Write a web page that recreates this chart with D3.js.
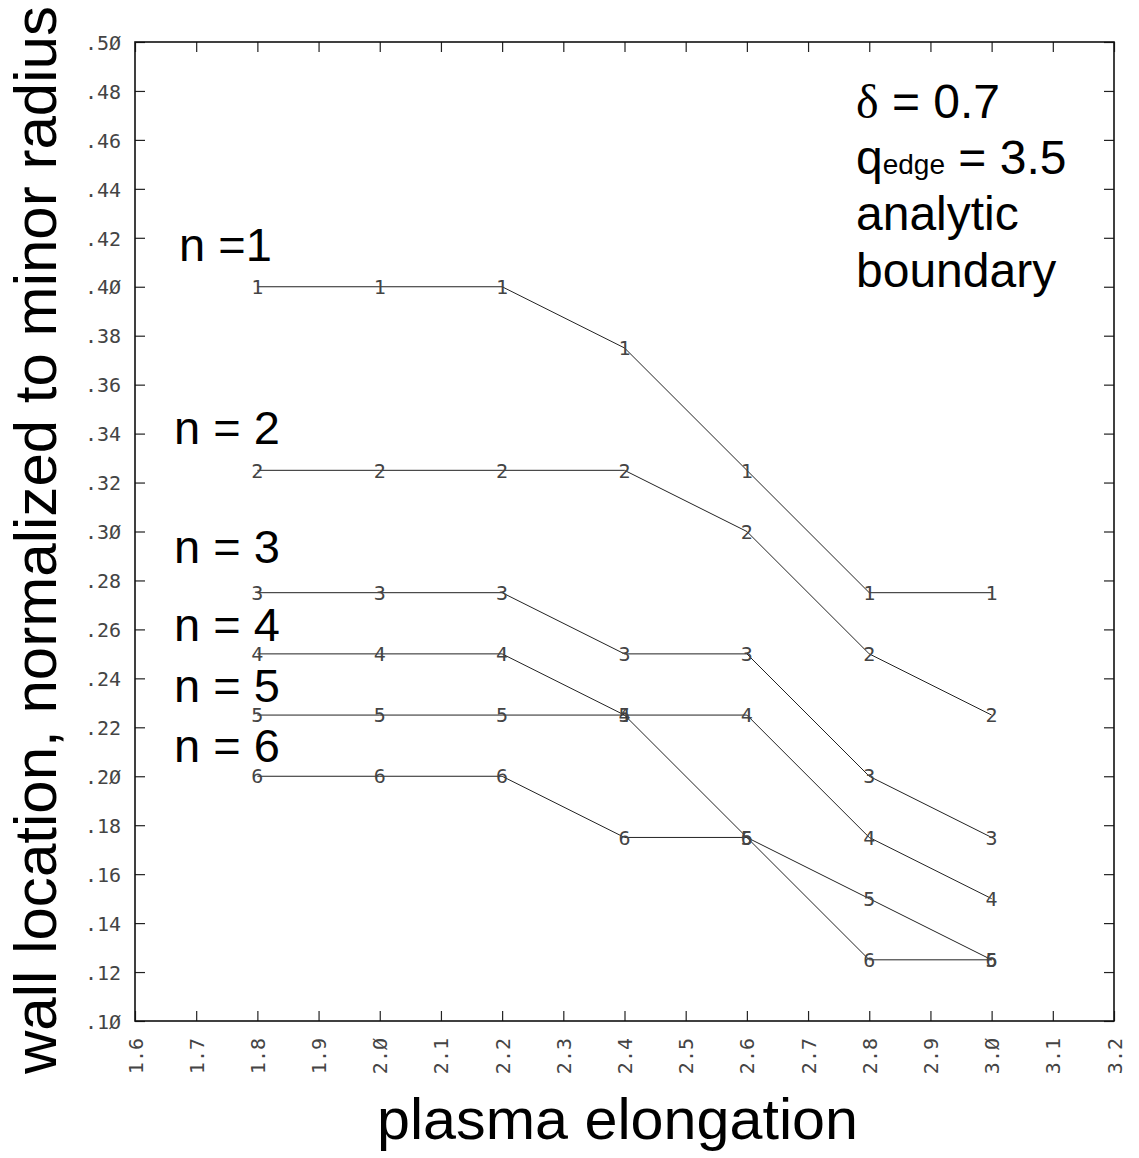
<!DOCTYPE html>
<html>
<head>
<meta charset="utf-8">
<script src="https://cdn.jsdelivr.net/npm/d3@7"></script>
<style>
  body { margin: 0; background: #fff; }
  svg { display: block; }
</style>
</head>
<body>
<div id="chart"></div>
<script>
// elongation values where the wall location was computed
const elongation = [1.8, 2.0, 2.2, 2.4, 2.6, 2.8, 3.0];
const modeNumbers = [1, 2, 3, 4, 5, 6];
const wallN1 = [0.40, 0.40, 0.40, 0.375, 0.325, 0.275, 0.275];
const wallN2 = [0.325, 0.325, 0.325, 0.325, 0.30, 0.25, 0.225];
const wallN3 = [0.275, 0.275, 0.275, 0.25, 0.25, 0.20, 0.175];
const wallN4 = [0.25, 0.25, 0.25, 0.225, 0.225, 0.175, 0.15];
const wallN5 = [0.225, 0.225, 0.225, 0.225, 0.175, 0.15, 0.125];
const wallN6 = [0.20, 0.20, 0.20, 0.175, 0.175, 0.125, 0.125];
const xTicks = [1.6, 1.7, 1.8, 1.9, 2.0, 2.1, 2.2, 2.3, 2.4, 2.5, 2.6, 2.7, 2.8, 2.9, 3.0, 3.1, 3.2];
const yTicks = [0.10, 0.12, 0.14, 0.16, 0.18, 0.20, 0.22, 0.24, 0.26, 0.28, 0.30, 0.32, 0.34, 0.36, 0.38, 0.40, 0.42, 0.44, 0.46, 0.48, 0.50];
const seriesLabels = ["n =1", "n = 2", "n = 3", "n = 4", "n = 5", "n = 6"];
const infoLines = ["δ = 0.7", "qedge = 3.5", "analytic", "boundary"];

const size = {
  width: 1139,
  height: 1158,
  left: 135,
  right: 1114,
  top: 42,
  bottom: 1021
};

const series = [wallN1, wallN2, wallN3, wallN4, wallN5, wallN6];

// plotter style labels: no leading zero, slashed zeros
const fmtY = d => d3.format(".2f")(d).replace(/^0/, "").replace(/0/g, "Ø");
const fmtX = d => d3.format(".1f")(d).replace(/0/g, "Ø");

const x = d3.scaleLinear().domain([1.6, 3.2]).range([size.left, size.right]);
const y = d3.scaleLinear().domain([0.10, 0.50]).range([size.bottom, size.top]);

const svg = d3.select("#chart").append("svg")
  .attr("width", size.width)
  .attr("height", size.height);

const thinFont = "'DejaVu Sans Mono', monospace";
const sans = "'Liberation Sans', Arial, sans-serif";

function plotterText(selection, px) {
  selection
    .style("font-family", thinFont)
    .style("font-size", px + "px")
    .style("fill", "#444");
}

// ticks on all four sides, pointing inward
const bottomAxis = svg.append("g")
  .attr("transform", `translate(0, ${size.bottom})`)
  .call(d3.axisBottom(x).tickValues(xTicks).tickSize(-10).tickSizeOuter(0).tickFormat(fmtX));
bottomAxis.selectAll("text")
  .attr("transform", "rotate(-90)")
  .attr("x", -17)
  .attr("y", 0)
  .attr("dy", "0.35em")
  .attr("text-anchor", "end")
  .call(plotterText, 20);

const leftAxis = svg.append("g")
  .attr("transform", `translate(${size.left}, 0)`)
  .call(d3.axisLeft(y).tickValues(yTicks).tickSize(-10).tickSizeOuter(0).tickPadding(14).tickFormat(fmtY));
leftAxis.selectAll("text")
  .attr("dy", "0.36em")
  .call(plotterText, 20);

svg.append("g")
  .attr("transform", `translate(0, ${size.top})`)
  .call(d3.axisTop(x).tickValues(xTicks).tickSize(-10).tickSizeOuter(0).tickFormat(""));

svg.append("g")
  .attr("transform", `translate(${size.right}, 0)`)
  .call(d3.axisRight(y).tickValues(yTicks).tickSize(-10).tickSizeOuter(0).tickFormat(""));

svg.selectAll(".domain").remove();
svg.selectAll(".tick line").attr("stroke", "#222").attr("stroke-width", 1.2);

// frame
svg.append("rect")
  .attr("x", size.left)
  .attr("y", size.top)
  .attr("width", size.right - size.left)
  .attr("height", size.bottom - size.top)
  .attr("fill", "none")
  .attr("stroke", "#111")
  .attr("stroke-width", 1.6);

// curves with mode number as the point symbol
const line = d3.line()
  .x((d, i) => x(elongation[i]))
  .y(d => y(d));

series.forEach((vals, k) => {
  svg.append("path")
    .datum(vals)
    .attr("d", line)
    .attr("fill", "none")
    .attr("stroke", "#222")
    .attr("stroke-width", 1);

  svg.append("g")
    .selectAll("text")
    .data(vals)
    .join("text")
    .attr("x", (d, i) => x(elongation[i]))
    .attr("y", d => y(d))
    .attr("dy", "0.36em")
    .attr("text-anchor", "middle")
    .call(plotterText, 20)
    .text(modeNumbers[k]);
});

// series labels on the left
const labelY = [261, 444, 563, 641, 702, 762];
const labelX = [179, 174, 174, 174, 174, 174];
svg.append("g")
  .selectAll("text")
  .data(seriesLabels)
  .join("text")
  .attr("x", (d, i) => labelX[i])
  .attr("y", (d, i) => labelY[i])
  .style("font-family", sans)
  .style("font-size", "47px")
  .text(d => d);

// parameter block, top right
const infoY = [118, 174, 230, 287];
const info = svg.append("g")
  .style("font-family", sans)
  .style("font-size", "48px");
info.append("text").attr("x", 856).attr("y", infoY[0])
  .call(t => {
    t.append("tspan").style("font-family", "'Liberation Serif', serif").text(infoLines[0].slice(0, 1));
    t.append("tspan").text(infoLines[0].slice(1));
  });
const q = info.append("text").attr("x", 856).attr("y", infoY[1]);
q.append("tspan").text("q");
q.append("tspan").style("font-size", "28px").text("edge");
q.append("tspan").text(" = 3.5");
info.append("text").attr("x", 856).attr("y", infoY[2]).text(infoLines[2]);
info.append("text").attr("x", 856).attr("y", infoY[3]).text(infoLines[3]);

// axis titles
svg.append("text")
  .attr("x", 377)
  .attr("y", 1139)
  .attr("textLength", 481)
  .attr("lengthAdjust", "spacingAndGlyphs")
  .style("font-family", sans)
  .style("font-size", "58px")
  .text("plasma elongation");

svg.append("text")
  .attr("transform", "translate(56, 1074) rotate(-90)")
  .attr("textLength", 1068)
  .attr("lengthAdjust", "spacingAndGlyphs")
  .style("font-family", sans)
  .style("font-size", "60px")
  .text("wall location, normalized to minor radius");
</script>
</body>
</html>
